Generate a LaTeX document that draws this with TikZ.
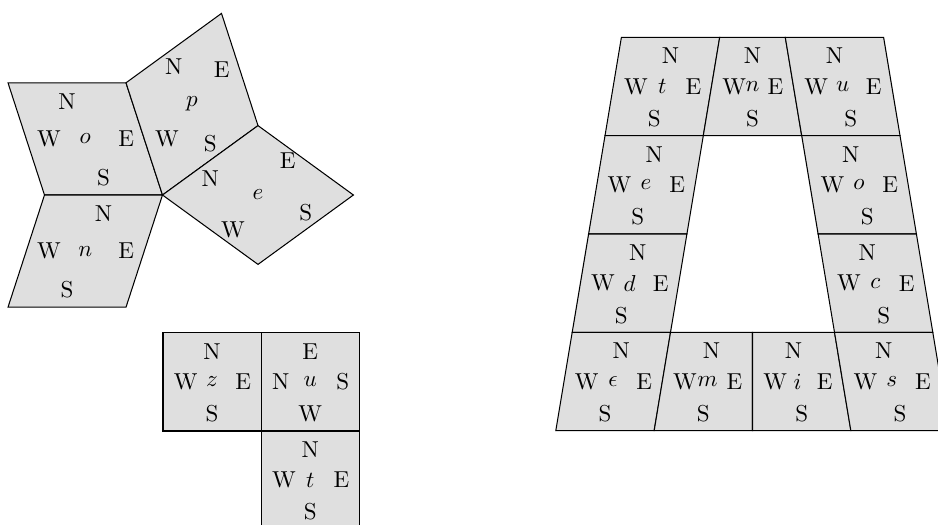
\documentclass[tikz,border=0pt]{standalone}
\usetikzlibrary{calc}
\tikzset{
  tilebox/.style={draw=black, fill=gray!25, line width=0.45pt, line join=miter},
  lbl/.style={inner sep=0pt, outer sep=0pt},
  lblN/.style={lbl, anchor=north, yshift=-4.7pt},
  lblS/.style={lbl, anchor=south, yshift=3.8pt},
  lblW/.style={lbl, anchor=west, xshift=4.7pt},
  lblE/.style={lbl, anchor=east, xshift=-4.4pt},
}
\newcommand\mytile[6]{%
  \coordinate (#1a) at (#2);
  \coordinate (#1b) at (#3);
  \coordinate (#1c) at (#4);
  \coordinate (#1d) at (#5);
  \draw[tilebox] (#1a) -- (#1b) -- (#1c) -- (#1d) -- cycle;
  \node[lbl] (#1x) at ($0.25*(#1a)+0.25*(#1b)+0.25*(#1c)+0.25*(#1d)$) {$#6$};
}
\newcommand\tilemarks[5]{%
  \node[lblN] (#1N) at ($(#1a)!0.5!(#1b)$) {#2};
  \node[lblE] (#1E) at ($(#1b)!0.5!(#1c)$) {#3};
  \node[lblS] (#1S) at ($(#1c)!0.5!(#1d)$) {#4};
  \node[lblW] (#1W) at ($(#1d)!0.5!(#1a)$) {#5};
}
\begin{document}
\begin{tikzpicture}[x=0.43395pt, y=-0.43395pt]
\useasboundingbox (0,0) rectangle (938,525);
\clip (0,0) rectangle (938,525);
% left group
\mytile{Lo}{8.0,82.8}{126.0,82.8}{162.5,195}{44.5,195}{o}
\tilemarks{Lo}{N}{E}{S}{W}
\mytile{Ln}{44.5,195}{162.5,195}{126.0,307.2}{8.0,307.2}{n}
\tilemarks{Ln}{N}{E}{S}{W}
\mytile{Lp}{126.0,82.8}{221.5,13.4}{258.0,125.6}{162.5,195}{p}
\tilemarks{Lp}{N}{E}{S}{W}
\mytile{Le}{162.5,195}{258.0,125.6}{353.4,195}{258.0,264.4}{e}
\tilemarks{Le}{N}{E}{S}{W}
% middle group
\mytile{Mz}{163,332.7}{261.2,332.7}{261.2,431}{163,431}{z}
\tilemarks{Mz}{N}{E}{S}{W}
\mytile{Mu}{261.2,332.7}{359.4,332.7}{359.4,431}{261.2,431}{u}
\tilemarks{Mu}{E}{S}{W}{N}
\mytile{Mt}{261.2,431}{359.4,431}{359.4,529.2}{261.2,529.2}{t}
\tilemarks{Mt}{N}{E}{S}{W}
% right group
\mytile{Rt}{621.4,37.3}{719.7,37.3}{703.3,135.65}{605.0,135.65}{t}
\tilemarks{Rt}{N}{E}{S}{W}
\mytile{Rn}{719.7,37.3}{785.3,37.3}{801.7,135.65}{703.3,135.65}{n}
\tilemarks{Rn}{N}{E}{S}{W}
\mytile{Ru}{785.3,37.3}{883.6,37.3}{900.0,135.65}{801.7,135.65}{u}
\tilemarks{Ru}{N}{E}{S}{W}
\mytile{Re}{605.0,135.65}{703.3,135.65}{686.9,234}{588.6,234}{e}
\tilemarks{Re}{N}{E}{S}{W}
\mytile{Ro}{801.7,135.65}{900.0,135.65}{916.4,234}{818.1,234}{o}
\tilemarks{Ro}{N}{E}{S}{W}
\mytile{Rd}{588.6,234}{686.9,234}{670.5,332.35}{572.2,332.35}{d}
\tilemarks{Rd}{N}{E}{S}{W}
\mytile{Rc}{818.1,234}{916.4,234}{932.8,332.35}{834.5,332.35}{c}
\tilemarks{Rc}{N}{E}{S}{W}
\mytile{Rep}{572.2,332.35}{670.5,332.35}{654.15,430.7}{555.8,430.7}{\epsilon}
\tilemarks{Rep}{N}{E}{S}{W}
\mytile{Rm}{670.5,332.35}{752.5,332.35}{752.5,430.7}{654.15,430.7}{m}
\tilemarks{Rm}{N}{E}{S}{W}
\mytile{Ri}{752.5,332.35}{834.5,332.35}{850.85,430.7}{752.5,430.7}{i}
\tilemarks{Ri}{N}{E}{S}{W}
\mytile{Rs}{834.5,332.35}{932.8,332.35}{949.2,430.7}{850.85,430.7}{s}
\tilemarks{Rs}{N}{E}{S}{W}
\end{tikzpicture}
\end{document}
